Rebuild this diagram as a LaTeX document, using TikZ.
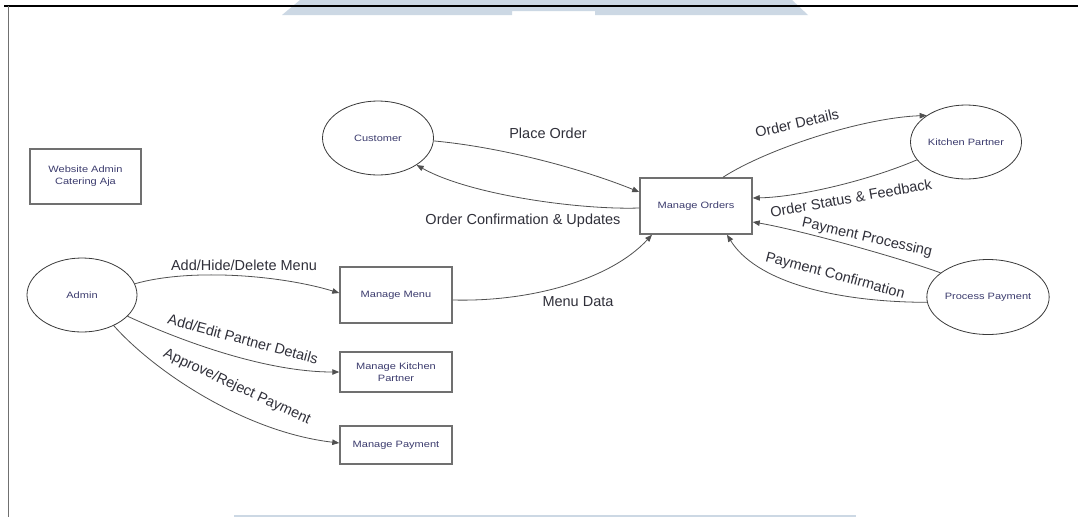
\documentclass[tikz,border=0pt]{standalone}
\usepackage{fontspec}
\setmainfont{Liberation Sans}
\newfontfamily\nodefont[FakeStretch=1.2]{Liberation Sans}
\usetikzlibrary{shapes.geometric,arrows.meta,calc}
\definecolor{wm}{HTML}{CCD8E4}
\definecolor{boxgray}{HTML}{707070}
\definecolor{ellgray}{HTML}{3A3A3A}
\definecolor{linegray}{HTML}{505050}
\definecolor{ntext}{HTML}{3C3C6E}
\definecolor{labtext}{HTML}{30303A}
\begin{document}
\begin{tikzpicture}[x=1pt,y=-1pt,
  proc/.style={draw=boxgray, line width=1.5pt, minimum width=112pt, minimum height=56pt, inner sep=0pt, align=center, font=\nodefont\fontsize{9.2}{12}\selectfont, text=ntext},
  ent/.style={ellipse, draw=ellgray, line width=0.8pt, minimum width=111pt, minimum height=74pt, inner sep=0pt, align=center, font=\nodefont\fontsize{9.2}{12}\selectfont, text=ntext},
  flow/.style={draw=linegray, line width=0.8pt, -{Triangle[length=7pt,width=5.5pt]}},
  lab/.style={font=\fontsize{14.5}{16}\selectfont, text=labtext, inner sep=0pt}]
\useasboundingbox (0,0) rectangle (1078,517);
\fill[white] (0,0) rectangle (1078,517);
% watermark
\fill[wm] (300,0) -- (792,0) -- (808,15) -- (595,15) -- (595,11) -- (512,11) -- (512,15) -- (282,15) -- cycle;
\fill[wm] (234,515) rectangle (856,517);
% frame
\draw[black, line width=1.5pt] (4,6) -- (1078,6);
\draw[boxgray, line width=1.5pt] (8.5,6) -- (8.5,517);

% nodes
\node[proc, minimum width=111pt, minimum height=55pt] (wa) at (85.5,176.5) {Website Admin\\Catering Aja};
\node[ent] (cust) at (378,138) {Customer};
\node[proc] (mo) at (696,206) {Manage Orders};
\node[ent] (kp) at (966,142) {Kitchen Partner};
\node[ent, minimum height=75pt] (pp) at (988,297) {Process Payment};
\node[ent, minimum width=110pt] (admin) at (82,295) {Admin};
\node[proc] (mm) at (396,295) {Manage Menu};
\node[proc, minimum height=40pt] (mkp) at (396,372) {Manage Kitchen\\Partner};
\node[proc, minimum height=38pt] (mp) at (396,445) {Manage Payment};

% connectors
\draw[flow] (cust.-3) .. controls (500,147) and (580,168) .. ($(mo.west)+(0,-14)$);
\draw[flow] ($(mo.west)+(0,2)$) .. controls (580,210) and (470,195) .. (cust.-35);
\draw[flow] ($(mo.north)+(27,0)$) .. controls (765,150) and (860,118) .. (kp.146);
\draw[flow] (kp.200) .. controls (870,180) and (800,197) .. ($(mo.east)+(0,-8)$);
\draw[flow] (pp.153) .. controls (900,258) and (800,230) .. ($(mo.east)+(0,16)$);
\draw[flow] (pp.185) .. controls (830,302) and (755,280) .. ($(mo.south)+(31,0)$);
\draw[flow] ($(mm.east)+(0,5)$) .. controls (530,302) and (610,280) .. ($(mo.south)+(-44,0)$);
\draw[flow] (admin.12) .. controls (190,268) and (280,275) .. ($(mm.west)+(0,-2)$);
\draw[flow] (admin.-25) .. controls (190,345) and (270,372) .. (mkp.west);
\draw[flow] (admin.-44) .. controls (155,372) and (245,432) .. ($(mp.west)+(0,-2)$);

% labels
\node[lab] (l1) at (548,133) {Place Order};
\node[lab] (l2) at (523,221) {Order Confirmation \& Updates};
\node[lab, rotate=13] (l3) at (797,123) {Order Details};
\node[lab, rotate=10] (l4) at (851,198) {Order Status \& Feedback};
\node[lab, rotate=-13] (l5) at (867,238) {Payment Processing};
\node[lab, rotate=-15] (l6) at (835,276) {Payment Confirmation};
\node[lab] (l7) at (578,302) {Menu Data};
\node[lab] (l8) at (244,265) {Add/Hide/Delete Menu};
\node[lab, rotate=-15] (l9) at (243,339) {Add/Edit Partner Details};
\node[lab, rotate=-25] (l10) at (237,387) {Approve/Reject Payment};
\end{tikzpicture}
\end{document}
